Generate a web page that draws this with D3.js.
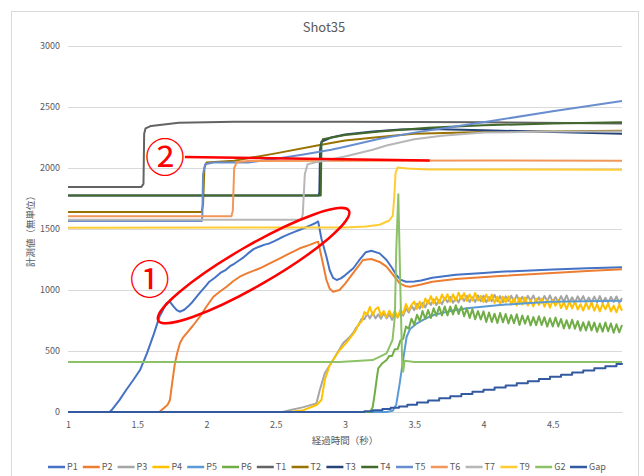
<!DOCTYPE html>
<html>
<head>
<meta charset="utf-8">
<script src="https://cdn.jsdelivr.net/npm/d3@7"></script>
<style>
body { margin: 0; background: #fff; }
svg text { font-family: "Noto Sans CJK JP", "Noto Sans", sans-serif; fill: #595959; }
</style>
</head>
<body>
<script>
// series names and tick labels
var seriesNames = ["P1", "P2", "P3", "P4", "P5", "P6", "T1", "T2", "T3", "T4", "T5", "T6", "T7", "T9", "G2", "Gap"];
var xTicks = [1, 1.5, 2, 2.5, 3, 3.5, 4, 4.5];
var yTicks = [0, 500, 1000, 1500, 2000, 2500, 3000];

// values: [time, value]
var p1 = [[1,0],[1.3,0],[1.315,16],[1.37,95],[1.42,180],[1.47,260],[1.52,344],[1.57,480],[1.62,640],[1.66,780],[1.71,890],[1.735,905],[1.76,868],[1.785,835],[1.81,822],[1.84,838],[1.87,868],[1.9,904],[1.95,975],[2.0,1040],[2.02,1068],[2.06,1100],[2.1,1140],[2.14,1165],[2.17,1195],[2.2,1215],[2.24,1246],[2.27,1270],[2.3,1300],[2.34,1335],[2.38,1355],[2.42,1372],[2.45,1380],[2.49,1400],[2.53,1424],[2.57,1445],[2.6,1460],[2.64,1478],[2.67,1492],[2.71,1510],[2.75,1530],[2.78,1545],[2.806,1562],[2.83,1420],[2.866,1273],[2.89,1160],[2.914,1100],[2.94,1082],[2.97,1095],[3.0,1120],[3.06,1178],[3.1,1240],[3.15,1310],[3.19,1322],[3.25,1300],[3.3,1246],[3.34,1180],[3.37,1123],[3.4,1085],[3.44,1068],[3.5,1070],[3.55,1078],[3.63,1100],[3.8,1125],[4.0,1140],[4.12,1150],[4.3,1158],[4.5,1168],[4.75,1178],[5,1186]];
var p2 = [[1,0],[1.66,0],[1.676,16],[1.72,60],[1.736,98],[1.75,220],[1.772,400],[1.79,490],[1.808,563],[1.83,610],[1.856,645],[1.9,705],[1.952,781],[2.0,865],[2.05,945],[2.1,990],[2.145,1027],[2.19,1070],[2.24,1109],[2.3,1140],[2.385,1178],[2.45,1215],[2.53,1260],[2.6,1300],[2.674,1342],[2.74,1368],[2.806,1396],[2.83,1273],[2.866,1082],[2.89,1010],[2.914,986],[2.96,1000],[3.0,1050],[3.06,1140],[3.13,1246],[3.19,1254],[3.25,1230],[3.3,1191],[3.35,1120],[3.395,1055],[3.44,1030],[3.47,1027],[3.55,1045],[3.63,1068],[3.8,1090],[4.12,1115],[4.5,1140],[4.75,1155],[5,1170]];
var p3 = [[1,0],[2.55,0],[2.6,15],[2.7,40],[2.794,71],[2.818,180],[2.854,317],[2.914,426],[2.986,563],[3.03,610],[3.06,650],[3.08,690],
  [3.1,715],[3.12,765],[3.14,760],[3.16,805],[3.18,767],[3.2,815],[3.22,767],[3.24,800],[3.26,765],[3.28,810],[3.3,768],[3.32,800],[3.34,755],[3.36,805],[3.38,775],[3.4,820],[3.42,790],[3.44,850],[3.46,815],[3.48,870],[3.5,835],[3.52,887],[3.54,848],[3.56,895],[3.58,857],[3.6,913],[3.62,878],[3.64,923],[3.66,877],[3.68,920],[3.7,883],[3.72,937],[3.74,900],[3.76,943],[3.78,895],[3.8,935],[3.82,898],[3.84,949],[3.86,910],[3.88,951],[3.9,901],[3.92,940],[3.94,902],[3.96,955],[3.98,908],[4.0,953],[4.02,900],[4.04,942],[4.06,908],[4.08,960],[4.1,908],[4.12,950],[4.14,900],[4.16,948],[4.18,910],[4.2,953],[4.22,905],[4.24,958],[4.26,903],[4.28,945],[4.3,900],[4.32,952],[4.34,912],[4.36,955],[4.38,902],[4.4,940],[4.42,898],[4.44,951],[4.46,910],[4.48,956],[4.5,900],[4.52,942],[4.54,902],[4.56,950],[4.58,905],[4.6,955],[4.62,899],[4.64,940],[4.66,895],[4.68,948],[4.7,906],[4.72,950],[4.74,897],[4.76,938],[4.78,900],[4.8,946],[4.82,898],[4.84,950],[4.86,895],[4.88,936],[4.9,897],[4.92,944],[4.94,902],[4.96,947],[4.98,893],[5,935]];
var p4 = [[1,0],[2.6,0],[2.7,15],[2.794,57],[2.83,98],[2.854,262],[2.89,385],[2.93,455],[2.962,508],[3.0,555],[3.035,604],[3.06,640],[3.08,675],
  [3.1,725],[3.12,740],[3.14,820],[3.16,800],[3.18,862],[3.2,795],[3.22,842],[3.24,859],[3.26,790],[3.28,827],[3.3,778],[3.32,830],[3.34,782],[3.36,830],[3.38,775],[3.4,840],[3.42,805],[3.44,885],[3.46,832],[3.48,878],[3.5,905],[3.52,845],[3.54,905],[3.56,855],[3.58,930],[3.6,888],[3.62,950],[3.64,888],[3.66,942],[3.68,890],[3.7,963],[3.72,916],[3.74,965],[3.76,903],[3.78,965],[3.8,912],[3.82,978],[3.84,924],[3.86,975],[3.88,910],[3.9,964],[3.92,913],[3.94,976],[3.96,914],[3.98,952],[4.0,900],[4.02,963],[4.04,910],[4.06,962],[4.08,894],[4.1,945],[4.12,883],[4.14,946],[4.16,899],[4.18,948],[4.2,881],[4.22,930],[4.24,874],[4.26,937],[4.28,881],[4.3,940],[4.32,873],[4.34,917],[4.36,866],[4.38,929],[4.4,877],[4.42,930],[4.44,863],[4.46,916],[4.48,855],[4.5,918],[4.52,871],[4.54,919],[4.56,852],[4.58,900],[4.6,843],[4.62,906],[4.64,849],[4.66,907],[4.68,840],[4.7,883],[4.72,832],[4.74,895],[4.76,844],[4.78,898],[4.8,831],[4.82,885],[4.84,824],[4.86,887],[4.88,841],[4.9,890],[4.92,824],[4.94,872],[4.96,817],[4.98,881],[5,830]];
var p5 = [[1,0],[3.3,0],[3.345,10],[3.37,60],[3.395,235],[3.42,430],[3.445,617],[3.47,680],[3.52,727],[3.58,765],[3.64,795],[3.75,825],[3.88,850],[4.12,877],[4.48,904],[5,912]];
var p6 = [[1,0],[3.18,0],[3.2,40],[3.215,153],[3.23,280],[3.24,358],[3.27,400],[3.3,426],
  [3.32,460],[3.34,460],[3.36,515],[3.38,515],[3.4,585],[3.42,600],[3.44,700],[3.46,682],[3.48,765],[3.5,715],[3.52,797],[3.54,745],[3.56,828],[3.58,762],[3.6,835],[3.62,770],[3.64,850],[3.66,788],[3.68,863],[3.7,792],[3.72,865],[3.74,792],[3.76,864],[3.78,800],[3.8,875],[3.82,803],[3.84,865],[3.86,785],[3.88,850],[3.9,770],[3.92,843],[3.94,760],[3.96,827],[3.98,758],[4.0,825],[4.02,737],[4.04,815],[4.06,738],[4.08,806],[4.1,729],[4.12,812],[4.14,735],[4.16,803],[4.18,726],[4.2,795],[4.22,728],[4.24,801],[4.26,714],[4.28,791],[4.3,724],[4.32,787],[4.34,710],[4.36,778],[4.38,712],[4.4,785],[4.42,713],[4.44,777],[4.46,700],[4.48,768],[4.5,701],[4.52,774],[4.54,701],[4.56,763],[4.58,685],[4.6,752],[4.62,684],[4.64,756],[4.66,683],[4.68,745],[4.7,667],[4.72,735],[4.74,668],[4.76,741],[4.78,669],[4.8,733],[4.82,657],[4.84,725],[4.86,659],[4.88,733],[4.9,662],[4.92,726],[4.94,650],[4.96,719],[4.98,653],[5,713]];
var t1 = [[1,1845],[1.53,1845],[1.545,1870],[1.55,2280],[1.56,2325],[1.6,2345],[1.8,2370],[2.2,2380],[3,2380],[4,2375],[5,2365]];
var t2 = [[1,1640],[1.965,1640],[1.975,1700],[1.985,2000],[2.0,2045],[2.2,2060],[2.5,2120],[2.8,2185],[3.0,2225],[3.25,2255],[3.5,2280],[4,2295],[5,2305]];
var t3 = [[1,1775],[2.81,1775],[2.815,1800],[2.82,2150],[2.83,2215],[2.9,2250],[3.0,2275],[3.2,2300],[3.4,2315],[3.6,2320],[4,2310],[4.5,2295],[5,2280]];
var t4 = [[1,1775],[2.825,1775],[2.83,2200],[2.84,2235],[3.0,2270],[3.25,2300],[3.6,2330],[4.0,2350],[4.5,2365],[5,2375]];
var t5 = [[1,1565],[1.965,1565],[1.97,1600],[1.975,1950],[1.99,2030],[2.05,2045],[2.3,2045],[2.5,2075],[2.7,2110],[2.9,2150],[3.0,2175],[3.25,2240],[3.5,2290],[4,2375],[4.5,2465],[5,2550]];
var t6 = [[1,1605],[2.18,1605],[2.19,1650],[2.2,2000],[2.22,2050],[2.3,2058],[3,2060],[4,2062],[5,2060]];
var t7 = [[1,1575],[2.685,1575],[2.695,1620],[2.71,1950],[2.73,2030],[2.8,2050],[3.0,2095],[3.2,2150],[3.3,2185],[3.5,2235],[3.7,2265],[4,2290],[4.5,2300],[5,2300]];
var t9 = [[1,1510],[3.0,1512],[3.15,1520],[3.25,1535],[3.32,1570],[3.345,1610],[3.355,1750],[3.365,1960],[3.38,2005],[3.45,1995],[3.6,1988],[5,1985]];
var g2 = [[1,410],[2.96,410],[3.2,426],[3.3,481],[3.343,590],[3.36,781],[3.37,1328],[3.385,1785],[3.4,1000],[3.413,400],[3.42,330],[3.43,420],[3.5,410],[5,410]];
var gap = [[1,0],[3.1,0],[3.14,6],[3.2,14],[3.27,24],[3.33,34],[3.39,46],[3.45,60],[3.52,78],[3.6,95],[3.68,112],[3.76,130],[3.84,148],[3.92,165],[4.0,183],[4.08,200],[4.16,218],[4.24,235],[4.32,253],[4.4,270],[4.48,288],[4.56,305],[4.64,323],[4.72,340],[4.8,358],[4.88,375],[4.96,393],[5,400]];

var seriesData = [p1, p2, p3, p4, p5, p6, t1, t2, t3, t4, t5, t6, t7, t9, g2, gap];
var colors = ["#4472c4", "#ed7d31", "#a5a5a5", "#ffc000", "#5b9bd5", "#70ad47", "#636363", "#997300",
              "#264478", "#43682b", "#698ed0", "#f1975a", "#b7b7b7", "#ffcd33", "#8cc168", "#335aa1"];

// SVG Dimensions
var width = 644;
var height = 476;
var margins = { left: 68, right: 22, top: 46, bottom: 64 };

var svg = d3.select("body").append("svg")
            .attr("width", width)
            .attr("height", height);

svg.append("rect")
    .attr("x", 11.5).attr("y", 11.5)
    .attr("width", 627).attr("height", 480)
    .attr("fill", "#fff").attr("stroke", "#d9d9d9");

var x = d3.scaleLinear().domain([1, 5]).range([margins.left, width - margins.right]);
var y = d3.scaleLinear().domain([0, 3000]).range([height - margins.bottom, margins.top]);

// gridlines + y labels
var yAxis = svg.append("g")
    .attr("transform", "translate(" + margins.left + ",0)")
    .call(d3.axisLeft(y).tickValues(yTicks).tickFormat(d => String(d))
          .tickSize(-(width - margins.left - margins.right)).tickPadding(8));
yAxis.select(".domain").remove();
yAxis.selectAll("line").attr("stroke", "#d9d9d9");
yAxis.selectAll("text").attr("font-size", "9px");

var xAxis = svg.append("g")
    .attr("transform", "translate(0," + y(0) + ")")
    .call(d3.axisBottom(x).tickValues(xTicks).tickFormat(d => String(d)).tickSize(0).tickPadding(10));
xAxis.select(".domain").attr("stroke", "#d9d9d9");
xAxis.selectAll("text").attr("font-size", "9px");

// series
var line = d3.line().x(d => x(d[0])).y(d => y(d[1]));
var stepLine = d3.line().x(d => x(d[0])).y(d => y(d[1])).curve(d3.curveStepAfter);

svg.append("g").selectAll("path")
    .data(seriesData)
    .enter()
    .append("path")
    .attr("fill", "none")
    .attr("stroke", (d, i) => colors[i])
    .attr("stroke-width", 2)
    .attr("stroke-linejoin", "round")
    .attr("d", (d, i) => seriesNames[i] === "Gap" ? stepLine(d) : line(d));

// title and axis titles
svg.append("text")
    .attr("x", 324).attr("y", 32)
    .attr("text-anchor", "middle")
    .attr("font-size", "13px")
    .text("Shot35");

svg.append("text")
    .attr("x", (margins.left + width - margins.right) / 2).attr("y", 444)
    .attr("text-anchor", "middle")
    .attr("font-size", "9.5px")
    .text("経過時間（秒）");

svg.append("text")
    .attr("transform", "translate(34," + ((margins.top + height - margins.bottom) / 2) + ") rotate(-90)")
    .attr("text-anchor", "middle")
    .attr("font-size", "9.5px")
    .text("計測値（無単位）");

// legend
var legend = svg.append("g").selectAll("g")
    .data(seriesNames)
    .enter()
    .append("g")
    .attr("transform", (d, i) => "translate(" + (48 + i * 34.8) + ",467)");
legend.append("line")
    .attr("x1", 0).attr("x2", 17)
    .attr("stroke", (d, i) => colors[i])
    .attr("stroke-width", 2.5);
legend.append("text")
    .attr("x", 19).attr("dy", "0.35em")
    .attr("font-size", "9px")
    .text(d => d);

// red annotations (positioned in data units)
var ann = svg.append("g");
ann.append("ellipse")
    .attr("transform", "translate(" + x(2.34) + "," + y(1200) + ") rotate(-30)")
    .attr("rx", 110).attr("ry", 20)
    .attr("fill", "none").attr("stroke", "#ff0000").attr("stroke-width", 2.5);
ann.append("line")
    .attr("x1", x(1.844)).attr("y1", y(2091))
    .attr("x2", x(3.612)).attr("y2", y(2062))
    .attr("stroke", "#ff0000").attr("stroke-width", 2.5);
ann.append("text")
    .attr("x", x(1.59)).attr("y", y(1082))
    .attr("dy", "0.36em").attr("text-anchor", "middle")
    .attr("font-size", "40px")
    .style("fill", "#ff0000")
    .text("①");
ann.append("text")
    .attr("x", x(1.70)).attr("y", y(2088))
    .attr("dy", "0.36em").attr("text-anchor", "middle")
    .attr("font-size", "40px")
    .style("fill", "#ff0000")
    .text("②");
</script>
</body>
</html>
